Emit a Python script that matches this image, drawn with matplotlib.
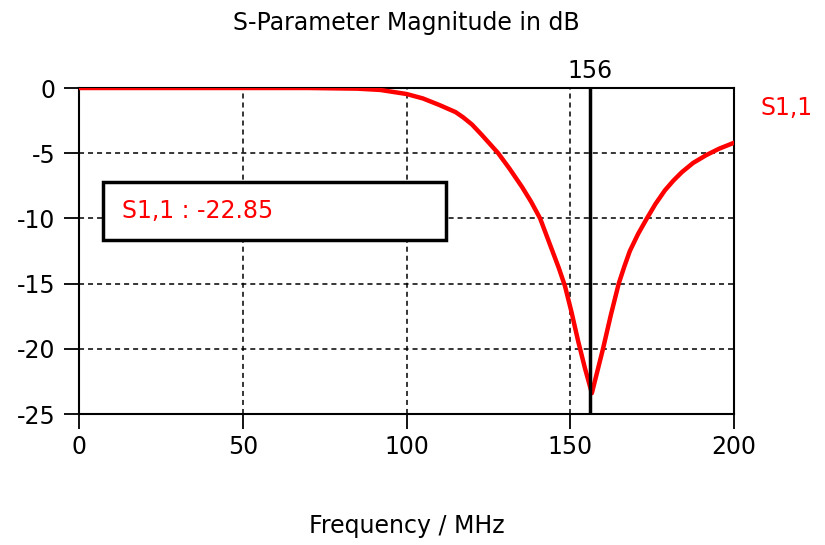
import matplotlib.pyplot as plt
from matplotlib.patches import Rectangle

# S11 magnitude (MHz, dB)
freq_mhz = [0, 40, 70, 85, 92, 100, 105, 110, 115, 117.3, 120, 123, 125.5, 128,
            131.5, 135.3, 138, 140.8, 142, 144.4, 146.5, 148.4, 150.4, 152.4, 154.5,
            156.6, 158.3, 160, 162.4, 164.8, 166.5, 168.2, 170.7, 173.4, 176,
            178.9, 181.5, 184.1, 187.5, 191.5, 195.5, 200]
s11_db = [0, 0, 0, -0.05, -0.15, -0.46, -0.8, -1.3, -1.85, -2.25, -2.8, -3.6, -4.3, -5.0,
          -6.2, -7.6, -8.7, -10.0, -10.8, -12.4, -13.8, -15.2, -17.2, -19.4, -21.5,
          -23.4, -21.7, -20.0, -17.4, -15.0, -13.7, -12.5, -11.2, -10.0, -8.9,
          -7.85, -7.1, -6.45, -5.75, -5.15, -4.65, -4.2]

marker_freq = 156
marker_value = -22.85
xticks = [0, 50, 100, 150, 200]
yticks = [0, -5, -10, -15, -20, -25]

plt.rcParams['font.family'] = ['DejaVu Sans']
plt.rcParams['axes.unicode_minus'] = False
fig = plt.figure(figsize=(8.25, 5.45), dpi=100)
ax = fig.add_axes([79/825, 1 - 414/545, (734-79)/825, (414-88)/545])

ax.plot(freq_mhz, s11_db, color='#ff0000', lw=3.2, solid_joinstyle='round',
        solid_capstyle='round', zorder=3)
ax.axvline(marker_freq, color='black', lw=2.5, zorder=4)

ax.set_xlim(0, 200)
ax.set_ylim(-25, 0)
ax.set_xticks(xticks)
ax.set_yticks(yticks)
ax.grid(True, color='black', ls=(0, (3.3, 2.6)), lw=1.1)
ax.tick_params(axis='both', direction='out', length=11, width=1.3, labelsize=17)
ax.tick_params(axis='y', pad=6)
ax.tick_params(axis='x', pad=4)
for s in ax.spines.values():
    s.set_linewidth(1.5)

ax.set_title('S-Parameter Magnitude in dB', fontsize=17, pad=42)
ax.set_xlabel('Frequency / MHz', fontsize=17, labelpad=40)

ax.text(marker_freq, 0.35, str(marker_freq), ha='center', va='bottom', fontsize=17,
        clip_on=False)
ax.text(1.04, 0.94, 'S1,1', color='#ff0000', fontsize=17, ha='left', va='center',
        transform=ax.transAxes)

# marker readout box
ax.add_patch(Rectangle((0.0366, 0.534), 0.524, 0.178, transform=ax.transAxes,
                       facecolor='white', edgecolor='black', lw=2.5, zorder=5))
ax.text(0.0656, 0.623, f'S1,1 : {marker_value:.2f}', color='#ff0000', fontsize=17,
        ha='left', va='center', transform=ax.transAxes, zorder=6)

fig.savefig('out.png', dpi=100)
